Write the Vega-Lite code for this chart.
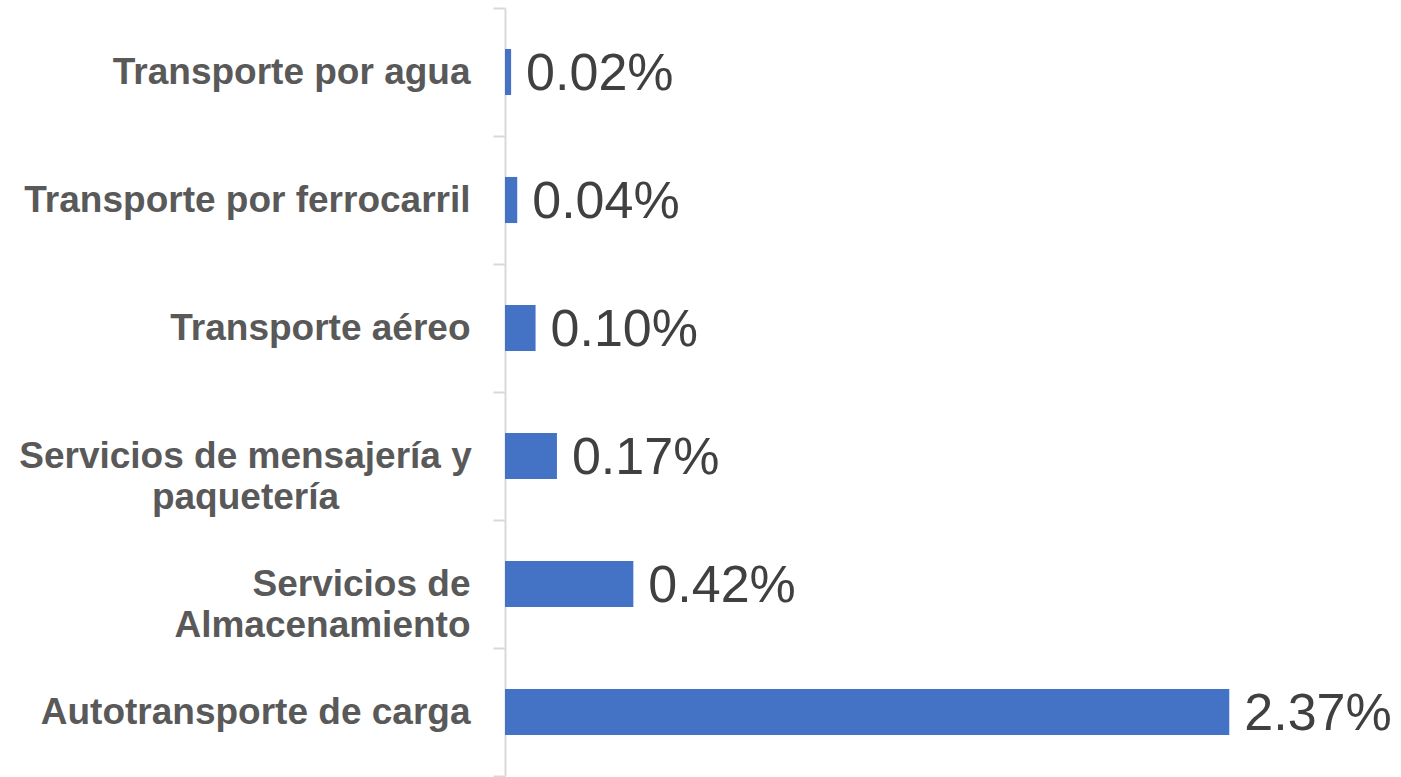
{
  "$schema": "https://vega.github.io/schema/vega-lite/v6.json",
  "autosize": {"type": "none"},
  "padding": {"left": 505, "top": 8, "right": 132, "bottom": 1},
  "width": 764,
  "height": 768,
  "background": "white",
  "config": {"view": {"stroke": null}},
  "data": {
    "values": [
      {"categoria": "Transporte por agua", "valor": 0.02, "etiqueta": "0.02%"},
      {"categoria": "Transporte por ferrocarril", "valor": 0.04, "etiqueta": "0.04%"},
      {"categoria": "Transporte aéreo", "valor": 0.10, "etiqueta": "0.10%"},
      {"categoria": "Servicios de mensajería y paquetería", "valor": 0.17, "etiqueta": "0.17%"},
      {"categoria": "Servicios de Almacenamiento", "valor": 0.42, "etiqueta": "0.42%"},
      {"categoria": "Autotransporte de carga", "valor": 2.37, "etiqueta": "2.37%"}
    ]
  },
  "encoding": {
    "y": {
      "field": "categoria",
      "type": "nominal",
      "sort": null,
      "scale": {"paddingInner": 0, "paddingOuter": 0},
      "axis": {
        "title": null,
        "domainColor": "#D9D9D9",
        "domainWidth": 2,
        "tickColor": "#D9D9D9",
        "tickWidth": 2,
        "tickSize": 12,
        "tickBand": "extent",
        "labelFont": "Liberation Sans",
        "labelFontWeight": "bold",
        "labelFontSize": 37,
        "labelColor": "#595959",
        "labelLimit": 600,
        "labelOverlap": false,
        "labelLineHeight": 41,
        "labelBaseline": "middle",
        "labelExpr": "datum.value == 'Servicios de mensajería y paquetería' ? ['Servicios de mensajería y', 'paquetería'] : datum.value == 'Servicios de Almacenamiento' ? ['Servicios de', 'Almacenamiento'] : datum.value",
        "labelAlign": {"condition": {"test": "datum.value == 'Servicios de mensajería y paquetería'", "value": "center"}, "value": "right"},
        "labelPadding": {"condition": {"test": "datum.value == 'Servicios de mensajería y paquetería'", "value": 248}, "value": 23}
      }
    },
    "x": {
      "field": "valor",
      "type": "quantitative",
      "scale": {"domain": [0, 2.5], "nice": false, "zero": true},
      "axis": null
    }
  },
  "layer": [
    {"mark": {"type": "bar", "color": "#4472C4", "height": {"band": 0.36}}},
    {
      "mark": {"type": "text", "align": "left", "baseline": "middle", "dx": 15, "dy": 2, "font": "Liberation Sans", "fontSize": 52, "color": "#404040"},
      "encoding": {"text": {"field": "etiqueta"}}
    }
  ]
}
